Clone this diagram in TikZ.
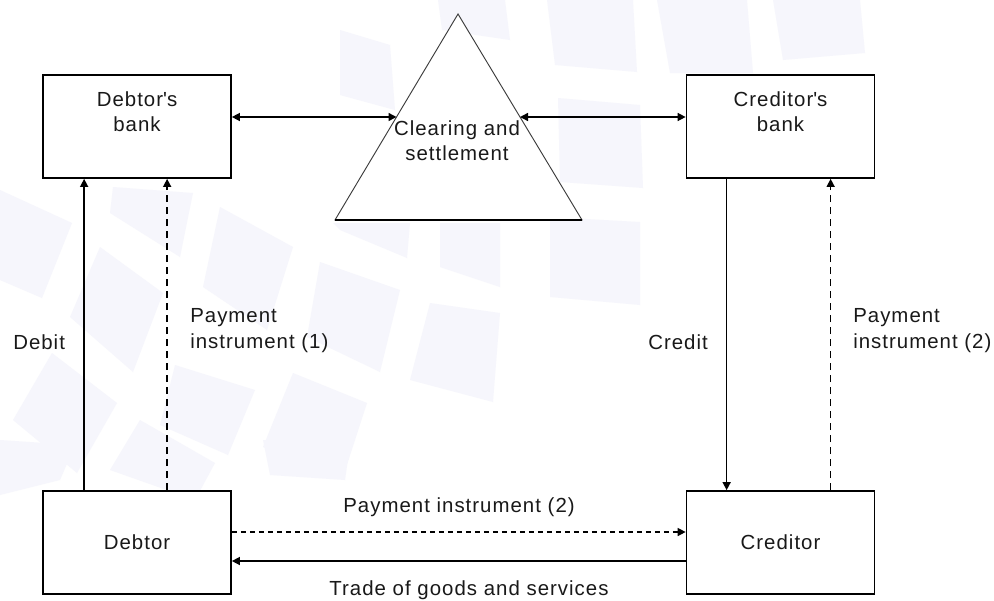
\documentclass[tikz,border=0pt]{standalone}
\usepackage{fontspec}
\setmainfont{Liberation Sans}[LetterSpace=5]
\usetikzlibrary{arrows.meta,calc}
\begin{document}
\begin{tikzpicture}[x=0.75pt,y=-0.75pt,
  wm/.style={fill={rgb,255:red,246;green,246;blue,252},draw=none},
  box/.style={draw=black,line width=1.3pt,fill=white,minimum width=141pt,minimum height=77.25pt,inner sep=0pt},
  lbl/.style={font=\fontsize{15.3pt}{19pt}\selectfont,text={rgb,255:red,25;green,25;blue,25},inner sep=0pt},
  conn/.style={line width=1.1pt,draw=black},
  dshv/.style={conn,dash pattern=on 5.25pt off 3.75pt},
  dshh/.style={conn,dash pattern=on 3.75pt off 3pt},
  >={Triangle[length=6pt,width=6pt]}
]
\useasboundingbox (0,0) rectangle (994,600);
\fill[white] (0,0) rectangle (994,600);
% watermark shapes
\fill[wm] (0,190)--(72,223)--(42,298)--(0,280)--cycle;
\fill[wm] (100,247)--(163,293)--(133,372)--(70,317)--cycle;
\fill[wm] (220,207)--(293,247)--(267,330)--(203,287)--cycle;
\fill[wm] (320,262)--(400,290)--(380,372)--(307,337)--cycle;
\fill[wm] (430,303)--(500,313)--(493,402)--(410,380)--cycle;
\fill[wm] (13,420)--(52,353)--(117,403)--(77,473)--cycle;
\fill[wm] (175,365)--(255,390)--(228,455)--(160,425)--cycle;
\fill[wm] (293,373)--(367,403)--(343,477)--(263,447)--cycle;
\fill[wm] (113,187)--(193,193)--(180,257)--(110,213)--cycle;
\fill[wm] (333,223)--(410,223)--(407,258)--(340,230)--cycle;
\fill[wm] (440,223)--(500,223)--(500,287)--(440,267)--cycle;
\fill[wm] (547,0)--(633,0)--(637,72)--(555,65)--cycle;
\fill[wm] (657,0)--(747,0)--(753,73)--(670,73)--cycle;
\fill[wm] (773,0)--(860,0)--(865,53)--(783,60)--cycle;
\fill[wm] (558,98)--(640,105)--(643,188)--(560,182)--cycle;
\fill[wm] (550,217)--(640,222)--(640,305)--(550,297)--cycle;
\fill[wm] (340,30)--(390,45)--(395,110)--(340,95)--cycle;
\fill[wm] (438,0)--(505,0)--(510,40)--(442,30)--cycle;
\fill[wm] (140,420)--(215,463)--(195,500)--(110,470)--cycle;
\fill[wm] (0,440)--(75,445)--(60,480)--(0,495)--cycle;
\fill[wm] (263,440)--(350,445)--(345,480)--(270,475)--cycle;
% triangle
\coordinate (apex) at (458,14);
\coordinate (bl) at (335,220);
\coordinate (br) at (582,220);
\filldraw[fill=white,draw={rgb,255:red,60;green,60;blue,60},line width=0.7pt] (apex)--(bl)--(br)--cycle;
\draw[line width=1pt] (bl)--(br);
\coordinate (tl) at ($(apex)!0.5!(bl)$);
\coordinate (tr) at ($(apex)!0.5!(br)$);
\node[lbl,align=center] (cst) at (457,140.5) {Clearing and\\settlement};
% boxes
\node[box] (db) at (137,126.5) {};
\node[box] (cb) at (780.5,126.5) {};
\node[box] (d) at (137,542.5) {};
\node[box] (c) at (780.5,542.5) {};
\node[lbl,align=center] (dbt) at (137,111.5) {Debtor\textquotesingle s\\bank};
\node[lbl,align=center] (cbt) at (780.5,111.5) {Creditor\textquotesingle s\\bank};
\node[lbl] (dt) at (137,542.5) {Debtor};
\node[lbl] (ct) at (780.5,542.5) {Creditor};
% connectors
\draw[conn,<->] (db.east |- tl) -- (tl);
\draw[conn,<->] (tr) -- (cb.west |- tr);
\draw[conn,->] ($(d.north west)+(42,0)$) -- ($(db.south west)+(42,0)$);
\draw[dshv,->] ($(d.north west)+(125,0)$) -- ($(db.south west)+(125,0)$);
\draw[conn,->] ($(cb.south west)+(41,0)$) -- ($(c.north west)+(41,0)$);
\draw[dshv,->] ($(c.north west)+(145,0)$) -- ($(cb.south west)+(145,0)$);
\draw[dshh,->] ($(d.east)+(0,-10.5)$) -- ($(c.west)+(0,-10.5)$);
\draw[conn,->] ($(c.west)+(0,18.5)$) -- ($(d.east)+(0,18.5)$);
% labels
\node[lbl,anchor=west] (ldebit) at (13,342) {Debit};
\node[lbl,anchor=west,align=left] (lpi1) at (190,330.5) {Payment\\instrument (1)};
\node[lbl,anchor=west] (lcredit) at (648,342) {Credit};
\node[lbl,anchor=west,align=left] (lpi2) at (853,330.5) {Payment\\instrument (2)};
\node[lbl] (lpih) at (459,507) {Payment instrument (2)};
\node[lbl] (ltrade) at (469,590) {Trade of goods and services};
\end{tikzpicture}
\end{document}
